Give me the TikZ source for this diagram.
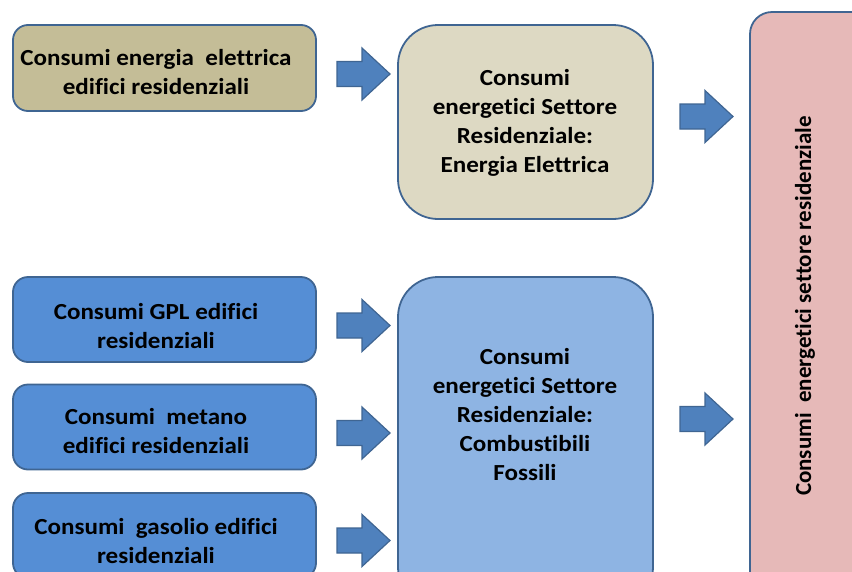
\documentclass[tikz,border=0pt]{standalone}
\usepackage{fontspec}
\setmainfont{Carlito}[Ligatures=NoCommon]
\newfontfamily\wideft{Carlito}[Ligatures=NoCommon, FakeStretch=1.09]
\definecolor{bordc}{HTML}{3F6592}
\definecolor{tanA}{HTML}{C4BD97}
\definecolor{tanB}{HTML}{DDD9C3}
\definecolor{pinkR}{HTML}{E6B9B8}
\definecolor{blueA}{HTML}{558ED5}
\definecolor{blueB}{HTML}{8EB4E3}
\definecolor{arrf}{HTML}{4F81BD}
\begin{document}
\begin{tikzpicture}[x=1pt,y=-1pt,
  bx/.style={draw=bordc, line width=1.8pt, inner sep=0pt, rounded corners=#1},
  txt/.style={align=center, inner sep=0pt, font=\wideft\bfseries\fontsize{23}{29}\selectfont},
  rtxt/.style={align=center, inner sep=0pt, rotate=90, font=\bfseries\fontsize{23}{29}\selectfont},
  arrst/.style={fill=arrf, draw=bordc, line width=1.2pt, line join=miter},
  barrow/.pic={\draw[arrst] (0,-12.5) -- (25,-12.5) -- (25,-26) -- (53,0) -- (25,26) -- (25,12.5) -- (0,12.5) -- cycle;}]
\useasboundingbox (0,0) rectangle (852,571);
\clip (0,0) rectangle (852,571);
% boxes
\node[bx=15, fill=tanA, minimum width=303pt, minimum height=86pt] (e1) at (164.5,68) {};
\node[bx=40, fill=tanB, minimum width=255pt, minimum height=194pt] (c1) at (525.5,122) {};
\node[bx=22, fill=pinkR, minimum width=140pt, minimum height=600pt] (R) at (820,312) {};
\node[bx=15, fill=blueA, minimum width=303pt, minimum height=85pt] (g1) at (164.5,319.5) {};
\node[bx=15, fill=blueA, minimum width=303pt, minimum height=85pt] (g2) at (164.5,427) {};
\node[bx=15, fill=blueA, minimum width=303pt, minimum height=85pt] (g3) at (164.5,535.5) {};
\node[bx=40, fill=blueB, minimum width=255pt, minimum height=330pt] (c2) at (525.5,442) {};
% texts
\node[txt] (te1) at (156,72.5) {Consumi energia\ \ elettrica\\edifici residenziali};
\node[txt] (tc1) at (525,122.5) {Consumi\\energetici Settore\\Residenziale:\\Energia Elettrica};
\node[txt] (tg1) at (156,326.5) {Consumi GPL edifici\\residenziali};
\node[txt] (tg2) at (156,431.5) {Consumi\ \ metano\\edifici residenziali};
\node[txt] (tg3) at (156,541.5) {Consumi\ \ gasolio edifici\\residenziali};
\node[txt] (tc2) at (525,415) {Consumi\\energetici Settore\\Residenziale:\\Combustibili\\Fossili};
\node[rtxt] (tR) at (805,306) {Consumi\ \ energetici settore residenziale};
% arrows
\pic at (337,74) {barrow};
\pic at (680,116.5) {barrow};
\pic at (337,325.5) {barrow};
\pic at (337,433) {barrow};
\pic at (337,540.5) {barrow};
\pic at (680,419) {barrow};
\end{tikzpicture}
\end{document}
